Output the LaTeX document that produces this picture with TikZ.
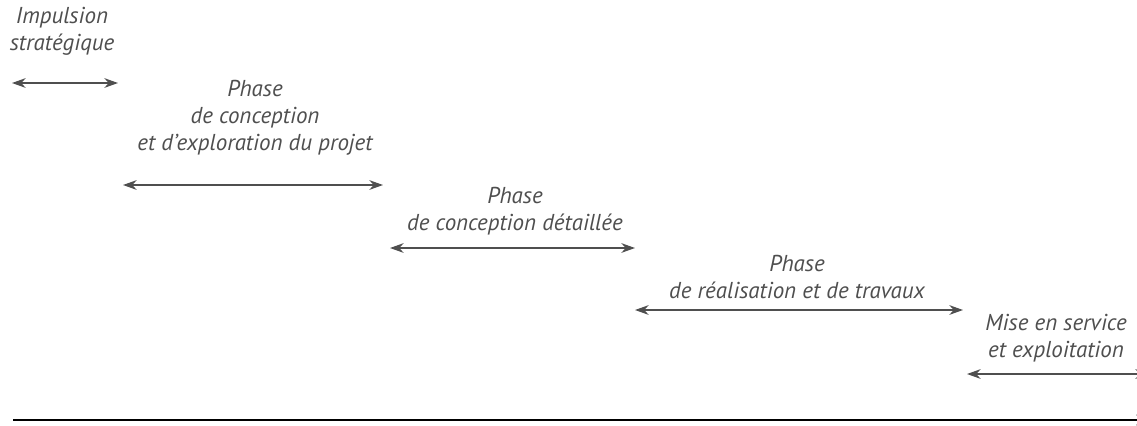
\documentclass[tikz,border=0pt]{standalone}
\usepackage{fontspec}
\setmainfont{PT Sans}
\usetikzlibrary{arrows.meta,positioning}
\definecolor{phasegray}{HTML}{4F4F4F}

\begin{document}
\begin{tikzpicture}[
  x=0.5pt, y=-0.5pt,
  font=\fontsize{11.5}{13.5}\selectfont\itshape,
  lbl/.style={align=center, text=phasegray, inner sep=0pt},
  span/.style={{Stealth[length=2.4mm,width=1.7mm]}-{Stealth[length=2.4mm,width=1.7mm]}, draw=phasegray, line width=0.9pt},
  axis/.style={-{Stealth[length=2.4mm,width=1.8mm]}, line width=1.4pt}
]
\useasboundingbox (0,0) rectangle (1137,425);
% labels
\node[lbl] (imp) at (62,31) {Impulsion\\strat\'egique};
\node[lbl] (expl) at (255,118) {Phase\\de conception\\et d'exploration du projet};
\node[lbl] (det) at (515,211) {Phase\\de conception d\'etaill\'ee};
\node[lbl] (real) at (797,277) {Phase\\de r\'ealisation et de travaux};
\node[lbl] (exploit) at (1056,338) {Mise en service\\et exploitation};
% span ends
\coordinate (imp-l) at (12,83);   \coordinate (imp-r) at (118,83);
\coordinate (expl-l) at (123,185); \coordinate (expl-r) at (383,185);
\coordinate (det-l) at (390,248);  \coordinate (det-r) at (635,248);
\coordinate (real-l) at (635,310); \coordinate (real-r) at (963,310);
\coordinate (exploit-l) at (967,374); \coordinate (exploit-r) at (1149,374);
\coordinate (t0) at (13,420); \coordinate (t1) at (1150,420);
\draw[span] (imp-l) -- (imp-r);
\draw[span] (expl-l) -- (expl-r);
\draw[span] (det-l) -- (det-r);
\draw[span] (real-l) -- (real-r);
\draw[span] (exploit-l) -- (exploit-r);
\draw[axis] (t0) -- (t1);
\end{tikzpicture}
\end{document}
